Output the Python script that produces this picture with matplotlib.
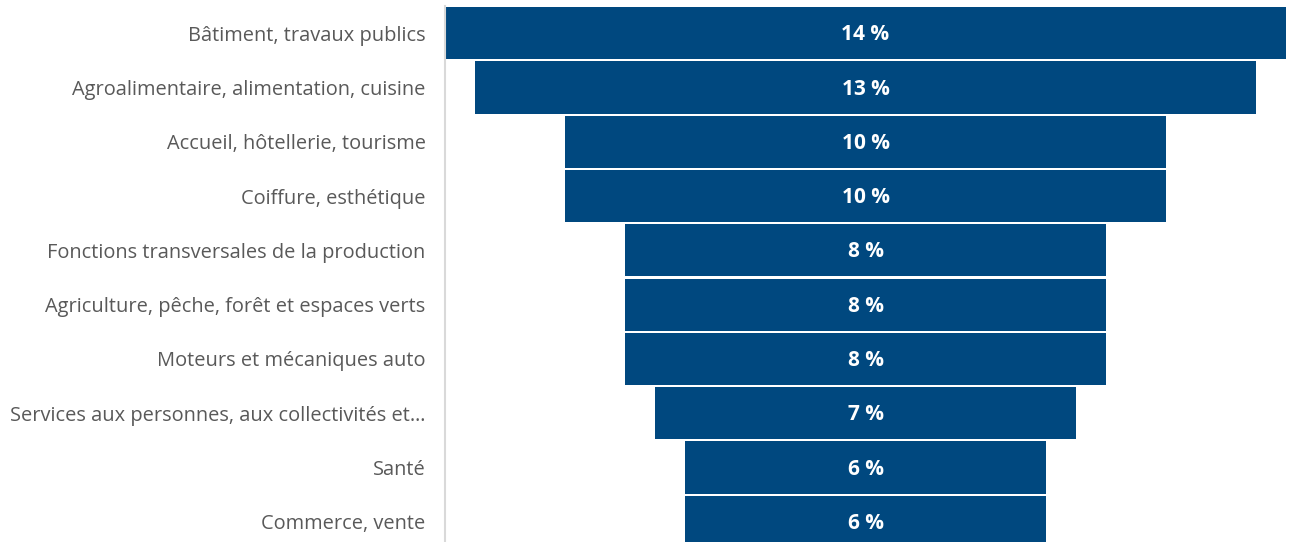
import matplotlib
matplotlib.use("Agg")
import matplotlib.pyplot as plt

categories = [
    "Bâtiment, travaux publics",
    "Agroalimentaire, alimentation, cuisine",
    "Accueil, hôtellerie, tourisme",
    "Coiffure, esthétique",
    "Fonctions transversales de la production",
    "Agriculture, pêche, forêt et espaces verts",
    "Moteurs et mécaniques auto",
    "Services aux personnes, aux collectivités et…",
    "Santé",
    "Commerce, vente",
]
values = [14, 13, 10, 10, 8, 8, 8, 7, 6, 6]
value_labels = ["14 %", "13 %", "10 %", "10 %", "8 %", "8 %", "8 %", "7 %", "6 %", "6 %"]

W, H = 1289, 542
fig = plt.figure(figsize=(W / 100, H / 100), dpi=100)
ax = fig.add_axes([445 / W, 1 - 549 / H, 841 / W, 543 / H])

bar_color = "#00487F"
ypos = list(range(len(categories)))
lefts = [-v / 2 for v in values]
ax.barh(ypos, values, left=lefts, height=0.96, color=bar_color)
for y, lab in zip(ypos, value_labels):
    ax.text(0, y + 0.03, lab, ha="center", va="center", color="white",
            fontsize=15, fontweight="bold", family="Open Sans")

ax.set_xlim(-7, 7)
ax.set_ylim(len(categories) - 0.5, -0.5)
ax.set_yticks(ypos)
ax.set_yticklabels(categories, fontsize=14.4, color="#595959", family="Open Sans")
ax.tick_params(axis="y", length=0, pad=14)
ax.set_xticks([])
for s in ["top", "right", "bottom"]:
    ax.spines[s].set_visible(False)
ax.spines["left"].set_color("#D9D9D9")
ax.spines["left"].set_linewidth(1.5)

fig.savefig("out.png", dpi=100)
